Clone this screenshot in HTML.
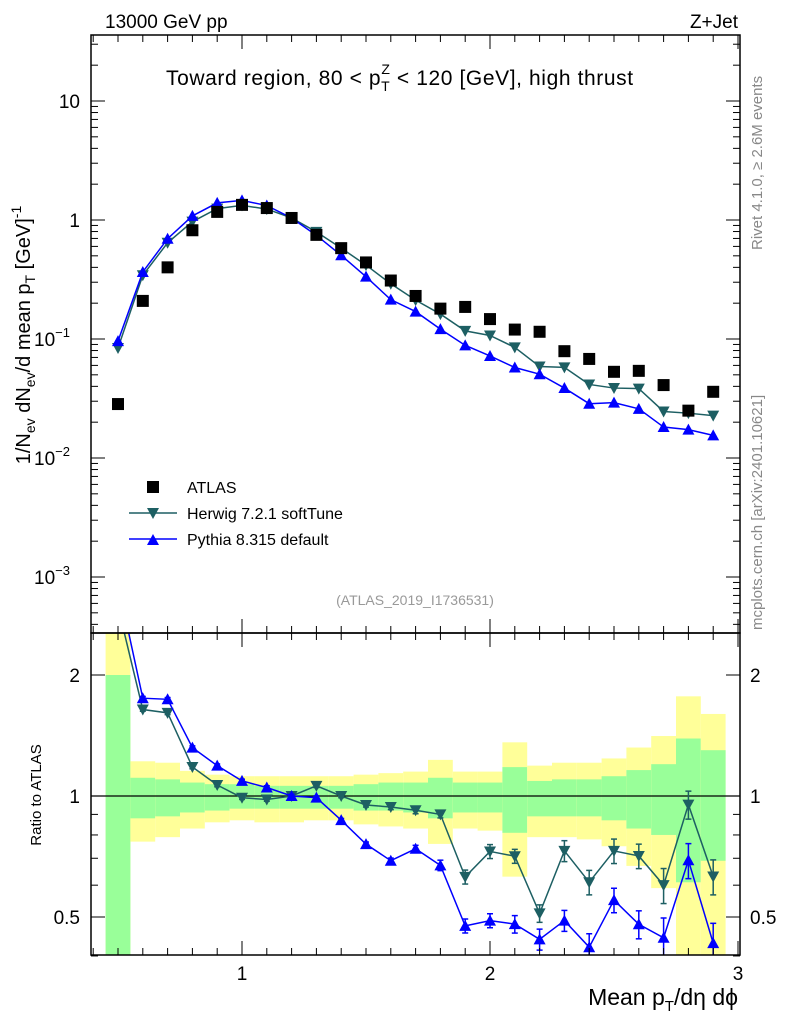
<!DOCTYPE html>
<html><head><meta charset="utf-8"><style>
html,body{margin:0;padding:0;background:#fff;}
svg{display:block;font-family:"Liberation Sans",sans-serif;}
</style></head><body>
<svg id="c" width="786" height="1024" viewBox="0 0 786 1024" xmlns="http://www.w3.org/2000/svg">
<defs>
<clipPath id="clipMain"><rect x="91" y="35" width="649" height="598"/></clipPath>
<clipPath id="clipRatio"><rect x="91" y="633" width="649" height="322"/></clipPath>
</defs>
<g id="bands" clip-path="url(#clipRatio)"></g>
<g id="marks"></g>
<rect x="91" y="35" width="649" height="598" fill="none" stroke="#000" stroke-width="1.5"/>
<rect x="91" y="633" width="649" height="322" fill="none" stroke="#000" stroke-width="1.5"/>
<g id="ticks" stroke="#000" stroke-width="1"></g>
<text x="105" y="28" font-size="19">13000 GeV pp</text>
<text x="738" y="28" font-size="19" text-anchor="end">Z+Jet</text>
<text x="166" y="85" font-size="21" letter-spacing="0.6">Toward region, 80 &lt; p<tspan font-size="14" dy="6">T</tspan><tspan font-size="14" dx="-9" dy="-17">Z</tspan><tspan dy="11"> &lt; 120 [GeV], high thrust</tspan></text>
<text transform="translate(30,335) rotate(-90)" font-size="20" text-anchor="middle">1/N<tspan font-size="14" dy="5">ev</tspan><tspan dy="-5"> dN</tspan><tspan font-size="14" dy="5">ev</tspan><tspan dy="-5">/d mean p</tspan><tspan font-size="14" dy="5">T</tspan><tspan dy="-5"> [GeV]</tspan><tspan font-size="14" dy="-9">-1</tspan></text>
<text transform="translate(41,795) rotate(-90)" font-size="15" text-anchor="middle">Ratio to ATLAS</text>
<text x="738" y="1005" font-size="23" text-anchor="end">Mean p<tspan font-size="15" dy="6">T</tspan><tspan dy="-6">/dη dϕ</tspan></text>
<text transform="translate(762,250) rotate(-90)" font-size="15" fill="#888">Rivet 4.1.0, ≥ 2.6M events</text>
<text transform="translate(762,630) rotate(-90)" font-size="15" fill="#888">mcplots.cern.ch [arXiv:2401.10621]</text>
<text x="415" y="605" font-size="14" fill="#999" text-anchor="middle">(ATLAS_2019_I1736531)</text>
<g>
<rect x="147" y="481" width="12" height="12" fill="#000"/>
<text x="187" y="493" font-size="16">ATLAS</text>
<line x1="129" y1="513" x2="177" y2="513" stroke="#1d5f63" stroke-width="1.5"/>
<polygon points="147,508 159,508 153,519" fill="#1d5f63"/>
<text x="187" y="519" font-size="16">Herwig 7.2.1 softTune</text>
<line x1="129" y1="539" x2="177" y2="539" stroke="#0000ff" stroke-width="1.5"/>
<polygon points="147,545 159,545 153,534" fill="#0000ff"/>
<text x="187" y="545" font-size="16">Pythia 8.315 default</text>
</g>
</svg>
<script>
const xCenters=[0.5,0.6,0.7,0.8,0.9,1.0,1.1,1.2,1.3,1.4,1.5,1.6,1.7,1.8,1.9,2.0,2.1,2.2,2.3,2.4,2.5,2.6,2.7,2.8,2.9];
const atlas=[0.0284,0.209,0.40,0.82,1.17,1.34,1.26,1.04,0.75,0.58,0.44,0.31,0.23,0.18,0.186,0.147,0.12,0.115,0.079,0.068,0.053,0.054,0.041,0.025,0.036];
const herwig=[0.084,0.343,0.644,0.968,1.246,1.327,1.235,1.04,0.795,0.58,0.418,0.291,0.212,0.162,0.117,0.107,0.085,0.0587,0.0577,0.0415,0.0387,0.0383,0.0246,0.0238,0.0227];
const pythia=[0.096,0.366,0.696,1.082,1.392,1.461,1.323,1.04,0.743,0.505,0.334,0.214,0.170,0.121,0.0884,0.072,0.0576,0.0506,0.0387,0.0286,0.0292,0.0259,0.0182,0.0173,0.0155];
const herwigRelErr=[0.01,0.01,0.01,0.01,0.01,0.01,0.01,0.01,0.01,0.01,0.012,0.015,0.02,0.02,0.04,0.04,0.04,0.05,0.06,0.07,0.07,0.07,0.1,0.08,0.1];
const pythiaRelErr=[0.01,0.01,0.01,0.01,0.01,0.01,0.01,0.01,0.01,0.01,0.012,0.015,0.02,0.03,0.04,0.04,0.05,0.06,0.06,0.08,0.07,0.08,0.12,0.1,0.12];
const yellowUp=[2.6,1.22,1.21,1.155,1.13,1.12,1.12,1.12,1.12,1.12,1.13,1.14,1.15,1.23,1.15,1.15,1.36,1.19,1.21,1.21,1.24,1.32,1.41,1.77,1.6];
const greenUp=[2.0,1.11,1.10,1.08,1.07,1.07,1.06,1.06,1.06,1.06,1.07,1.08,1.08,1.11,1.08,1.08,1.18,1.09,1.10,1.10,1.12,1.16,1.2,1.39,1.30];
const greenDn=[0.3,0.88,0.89,0.91,0.92,0.93,0.93,0.93,0.93,0.93,0.92,0.92,0.91,0.88,0.91,0.91,0.81,0.89,0.89,0.89,0.87,0.83,0.8,0.61,0.69];
const yellowDn=[0.3,0.77,0.79,0.83,0.86,0.87,0.86,0.86,0.87,0.87,0.85,0.84,0.83,0.76,0.83,0.82,0.63,0.79,0.79,0.78,0.75,0.67,0.59,0.3,0.3];
const binW=0.1;
const X=v=>242+(v-1)*248;
const YM=v=>220-Math.log10(v)*119;
const YR=r=>796-Math.log2(r)*121;
const NS="http://www.w3.org/2000/svg";
function mk(tag,attrs,parent){const e=document.createElementNS(NS,tag);for(const k in attrs)e.setAttribute(k,attrs[k]);parent.appendChild(e);return e;}
const svg=document.getElementById('c');
const bands=document.getElementById('bands');
const marks=document.getElementById('marks');
const ticks=document.getElementById('ticks');
xCenters.forEach((x,i)=>{
  const x0=X(x-binW/2),x1=X(x+binW/2);
  let r=mk('rect',{x:x0,y:YR(yellowUp[i]),width:x1-x0,height:YR(yellowDn[i])-YR(yellowUp[i]),fill:'#ffff99'},bands);
  
  
  let g=mk('rect',{x:x0,y:YR(greenUp[i]),width:x1-x0,height:YR(greenDn[i])-YR(greenUp[i]),fill:'#99ff99'},bands);
  
  
});
let one=mk('line',{x1:91,x2:740,y1:YR(1),y2:YR(1),stroke:'#000','stroke-width':1.3},marks);


function series(vals,errs,color,up,name){
  const gm=mk('g',{'clip-path':'url(#clipMain)'},marks);
  
  
  mk('polyline',{points:xCenters.map((x,i)=>X(x)+','+YM(vals[i])).join(' '),fill:'none',stroke:color,'stroke-width':1.5},gm);
  const gr=mk('g',{'clip-path':'url(#clipRatio)'},marks);
  
  
  const rat=vals.map((v,i)=>v/atlas[i]);
  mk('polyline',{points:xCenters.map((x,i)=>X(x)+','+YR(rat[i])).join(' '),fill:'none',stroke:color,'stroke-width':1.5},gr);
  xCenters.forEach((x,i)=>{
    const cx=X(x);
    [[gm,YM(vals[i])],[gr,YR(rat[i])]].forEach(([g,cy],k)=>{
      if(k===1){const a=YR(rat[i]*(1+errs[i])),b=YR(rat[i]*(1-errs[i]));
        mk('line',{x1:cx,x2:cx,y1:a,y2:b,stroke:color,'stroke-width':1.5},g);
        mk('line',{x1:cx-3,x2:cx+3,y1:a,y2:a,stroke:color,'stroke-width':1.5},g);
        mk('line',{x1:cx-3,x2:cx+3,y1:b,y2:b,stroke:color,'stroke-width':1.5},g);}
      const pts=up?[[cx-6,cy+5],[cx+6,cy+5],[cx,cy-6]]:[[cx-6,cy-5],[cx+6,cy-5],[cx,cy+6]];
      const p=mk('polygon',{points:pts.map(q=>q.join(',')).join(' '),fill:color},g);
      
      
    });
  });
}
series(herwig,herwigRelErr,'#1d5f63',false,'herwig');
series(pythia,pythiaRelErr,'#0000ff',true,'pythia');
xCenters.forEach((x,i)=>{
  const s=mk('rect',{x:X(x)-6,y:YM(atlas[i])-6,width:12,height:12,fill:'#000'},marks);
  
  
});
const xMajor=[1,2,3];
const xMajorLabels=['1','2','3'];
for(let t=0.4;t<=3.001;t+=0.1){
  const px=X(t);if(px<92||px>739)continue;
  const maj=Math.abs(t-Math.round(t))<1e-6;const L=maj?14:7;
  [[35,1],[633,-1],[633,1],[955,-1]].forEach(([y,d])=>mk('line',{x1:px,x2:px,y1:y,y2:y+d*L},ticks));
}
xMajor.forEach((v,i)=>{const t=mk('text',{x:X(v),y:980,'font-size':19,'text-anchor':'middle',stroke:'none'},svg);t.textContent=xMajorLabels[i];
  
  });
const yMajor=[0.001,0.01,0.1,1,10];
const yLabels=[['10','−3'],['10','−2'],['10','−1'],['1',''],['10','']];
for(let e=-4;e<=1;e++)for(let m=1;m<=9;m++){const v=m*Math.pow(10,e);const py=YM(v);if(py<36||py>632)continue;const L=m===1?14:7;
  mk('line',{x1:91,x2:91+L,y1:py,y2:py},ticks);mk('line',{x1:740,x2:740-L,y1:py,y2:py},ticks);}
yMajor.forEach((v,i)=>{const t=mk('text',{x:80,y:YM(v)+7,'font-size':19,'text-anchor':'end'},svg);
  
  
  if(yLabels[i][1]){t.setAttribute('x',70);t.textContent=yLabels[i][0];const s=mk('tspan',{'font-size':13,dy:-9},t);s.textContent=yLabels[i][1];}else t.textContent=yLabels[i][0];});
const rMajor=[0.5,1,2];
const rLabels=['0.5','1','2'];
[0.4,0.5,0.6,0.7,0.8,0.9,1,2].forEach(v=>{const py=YR(v);const L=rMajor.includes(v)?14:7;
  mk('line',{x1:91,x2:91+L,y1:py,y2:py},ticks);mk('line',{x1:740,x2:740-L,y1:py,y2:py},ticks);});
rMajor.forEach((v,i)=>{[[80,'end'],[750,'start']].forEach(([x,a])=>{const t=mk('text',{x:x,y:YR(v)+7,'font-size':19,'text-anchor':a},svg);t.textContent=rLabels[i];
  
  });});
</script>
</body></html>
